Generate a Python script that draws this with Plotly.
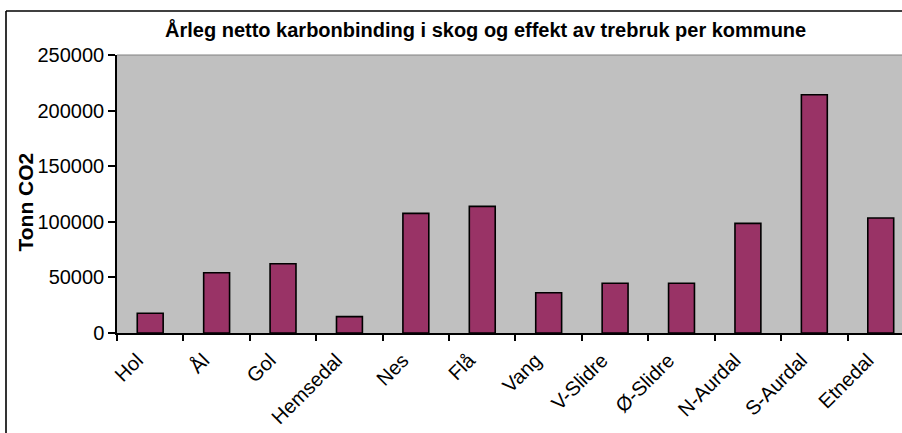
import plotly.graph_objects as go

categories = ["Hol", "Ål", "Gol", "Hemsedal", "Nes", "Flå", "Vang", "V-Slidre",
              "Ø-Slidre", "N-Aurdal", "S-Aurdal", "Etnedal"]
values = [17700, 54200, 62300, 14700, 107600, 113900, 36200, 44700,
          44700, 98600, 214300, 103400]
y_ticks = [0, 50000, 100000, 150000, 200000, 250000]

title_text = "Årleg netto karbonbinding i skog og effekt av trebruk per kommune"
y_title = "Tonn CO2"

W, H = 902, 433
L, R, T, B = 117, 0, 55, 100
pw = W - L - R
ph = H - T - B

def px_x(p):
    return (p - L) / pw

def px_y(p):
    return (H - B - p) / ph

font_family = "Liberation Sans, Arial, sans-serif"

fig = go.Figure()
fig.add_trace(go.Bar(
    x=categories, y=values,
    marker=dict(color="#993366", line=dict(color="black", width=1.6)),
    width=0.39,
))

fig.update_layout(
    width=W, height=H,
    margin=dict(l=L, r=R, t=T, b=B),
    paper_bgcolor="white",
    plot_bgcolor="#C0C0C0",
    showlegend=False,
    font=dict(family=font_family, size=20, color="black"),
    xaxis=dict(
        range=[-0.5, 11.32],
        tickangle=-45,
        ticks="outside", ticklen=6, tickwidth=1.5, tickcolor="black",
        tickson="boundaries",
        ticklabelshift=-13,
        ticklabelstandoff=6,
        showline=True, linecolor="black", linewidth=1.5,
        showgrid=False, zeroline=False,
        tickfont=dict(size=20),
    ),
    yaxis=dict(
        range=[0, 250000],
        tickvals=y_ticks,
        tickformat="d",
        ticks="outside", ticklen=7, tickwidth=1.5, tickcolor="black",
        showline=True, linecolor="black", linewidth=1.5,
        showgrid=False, zeroline=False,
        tickfont=dict(size=20),
    ),
    shapes=[
        dict(type="line", xref="paper", yref="paper", x0=0, x1=1, y0=1, y1=1,
             line=dict(color="#808080", width=1)),
        dict(type="line", xref="paper", yref="paper",
             x0=px_x(6), x1=px_x(910), y0=px_y(11), y1=px_y(11),
             line=dict(color="black", width=1.6)),
        dict(type="line", xref="paper", yref="paper",
             x0=px_x(6), x1=px_x(6), y0=px_y(11), y1=px_y(445),
             line=dict(color="black", width=1.6)),
    ],
    annotations=[
        dict(text="<b>" + title_text + "</b>", xref="paper", yref="paper",
             x=px_x(485.5), y=px_y(30), xanchor="center", yanchor="middle",
             showarrow=False, font=dict(size=20)),
        dict(text="<b>" + y_title + "</b>", xref="paper", yref="paper",
             x=px_x(25), y=px_y(202.5), xanchor="center", yanchor="middle",
             textangle=-90, showarrow=False, font=dict(size=21)),
    ],
)

fig.write_html(
    "out.html",
    config={"displayModeBar": False},
    post_script="document.body.style.margin='0px';document.body.style.overflow='hidden';",
)
